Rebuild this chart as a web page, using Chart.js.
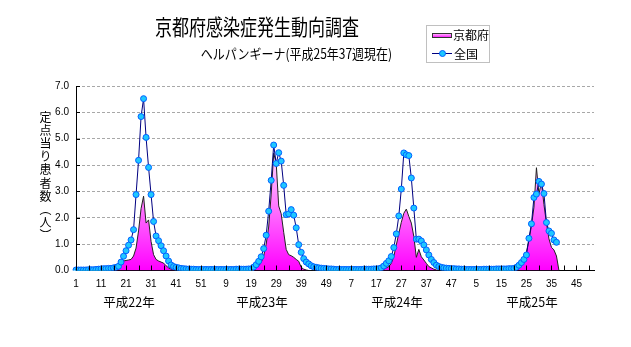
<!DOCTYPE html>
<html><head><meta charset="utf-8">
<script src="https://cdn.jsdelivr.net/npm/chart.js@4/dist/chart.umd.min.js"></script>
<style>
html,body{margin:0;padding:0;background:#fff;}
#wrap{position:relative;width:631px;height:347px;overflow:hidden;}
canvas{position:absolute;left:0;top:0;}
.t{position:absolute;white-space:nowrap;color:#000;font-family:"Noto Sans CJK JP","Noto Sans",sans-serif;line-height:1;}
#title{left:257px;top:26px;font-size:17px;transform:translate(-50%,-50%) scaleY(1.25);}
#sub{left:296.5px;top:53px;font-size:12px;transform:translate(-50%,-50%) scaleY(1.15);}
#ytitle{left:45px;top:111px;font-size:12px;writing-mode:vertical-rl;letter-spacing:1.2px;transform:translateX(-50%);}
.yr{top:302px;font-size:12.5px;transform:translate(-50%,-50%);}
#legend{position:absolute;left:426px;top:25px;width:62px;height:36px;border:1px solid #c0c0c0;background:#fff;}
#legend .sw1{position:absolute;left:5px;top:7px;width:18px;height:3px;border:1px solid #333;background:linear-gradient(#ffb0ff,#ff20ff);}
#legend .sw2{position:absolute;left:5px;top:27px;width:20px;height:1px;background:#000080;}
#legend .dot{position:absolute;left:12px;top:24px;width:5px;height:5px;border-radius:50%;background:#1ec8ff;border:1px solid #0060ff;}
#legend .l1{left:26px;top:9px;font-size:12px;transform:translateY(-50%);}
#legend .l2{left:27px;top:28px;font-size:12px;transform:translateY(-50%);}
</style></head>
<body>
<div id="wrap">
<canvas id="c" width="631" height="347"></canvas>
<div class="t" id="title">京都府感染症発生動向調査</div>
<div class="t" id="sub">ヘルパンギーナ(平成25年37週現在)</div>
<div class="t" id="ytitle">定点当り患者数（人）</div>
<div class="t yr" style="left:129px">平成22年</div>
<div class="t yr" style="left:262px">平成23年</div>
<div class="t yr" style="left:397px">平成24年</div>
<div class="t yr" style="left:532px">平成25年</div>
<div id="legend">
  <div class="sw1"></div><div class="t l1">京都府</div>
  <div class="sw2"></div><div class="dot"></div><div class="t l2">全国</div>
</div>
</div>
<script>
// ---- data ----
const years = ['平成22年','平成23年','平成24年','平成25年'];
const weeksPerYear = [52, 52, 52, 52];

const nationalH22 = [0.02,0.02,0.02,0.02,0.02,0.03,0.03,0.03,0.04,0.05,
  0.06,0.07,0.07,0.08,0.08,0.10,0.12,0.16,0.32,0.54,
  0.75,0.96,1.16,1.55,2.88,4.18,5.84,6.52,5.05,3.91,
  2.88,1.86,1.31,1.13,0.94,0.75,0.55,0.36,0.21,0.15,
  0.12,0.10,0.08,0.07,0.06,0.05,0.05,0.05,0.04,0.04,
  0.04,0.04];
const nationalH23 = [0.04,0.04,0.04,0.04,0.04,0.04,0.04,0.04,0.04,0.04,
  0.04,0.04,0.05,0.05,0.05,0.05,0.05,0.06,0.06,0.13,
  0.22,0.35,0.52,0.83,1.34,2.25,3.42,4.76,4.06,4.47,
  4.15,3.23,2.12,2.15,2.31,2.10,1.62,0.98,0.69,0.45,
  0.32,0.25,0.18,0.14,0.12,0.10,0.09,0.08,0.07,0.06,
  0.06,0.05];
const nationalH24 = [0.04,0.04,0.04,0.04,0.04,0.04,0.04,0.04,0.04,0.04,
  0.04,0.05,0.05,0.05,0.05,0.06,0.06,0.07,0.10,0.17,
  0.27,0.37,0.53,0.87,1.39,2.07,3.09,4.46,4.39,4.36,
  3.51,2.37,1.19,1.19,1.12,0.97,0.78,0.59,0.42,0.30,
  0.20,0.15,0.12,0.10,0.09,0.08,0.07,0.07,0.06,0.06,
  0.05,0.05];
const nationalH25 = [0.04,0.04,0.04,0.04,0.04,0.04,0.04,0.05,0.05,0.05,
  0.05,0.05,0.06,0.06,0.06,0.06,0.06,0.07,0.07,0.08,
  0.12,0.20,0.30,0.42,0.59,1.22,1.77,2.77,2.90,3.38,
  3.28,2.92,1.82,1.50,1.41,1.16,1.07];

const kyotoH22 = [0,0,0,0,0,0,0,0,0,0,
  0,0,0,0,0.02,0.05,0.08,0.15,0.28,0.36,
  0.38,0.40,0.42,0.55,0.85,1.50,2.35,2.82,1.80,1.92,
  1.10,0.60,0.42,0.36,0.32,0.28,0.18,0.10,0.05,0.02,
  0,0,0,0,0,0,0,0,0,0,
  0,0];
const kyotoH23 = [0,0,0,0,0,0,0,0,0,0,
  0,0,0,0,0,0,0,0.02,0.05,0.08,
  0.12,0.18,0.30,0.55,1.00,1.65,2.90,4.45,4.08,2.45,
  2.15,1.45,0.80,0.60,0.56,0.50,0.42,0.35,0.12,0.05,
  0.02,0,0,0,0,0,0,0,0,0,
  0,0];
const kyotoH24 = [0,0,0,0,0,0,0,0,0,0,
  0,0,0,0,0,0,0,0,0.02,0.05,
  0.10,0.15,0.27,0.53,0.97,1.41,1.83,2.17,2.33,2.05,
  1.80,1.29,0.50,0.80,0.52,0.40,0.27,0.15,0.10,0.05,
  0.02,0,0,0,0,0,0,0,0,0,
  0,0];
const kyotoH25 = [0,0,0,0,0,0,0,0,0,0,
  0,0,0,0,0,0,0,0,0,0.02,
  0.05,0.10,0.20,0.40,0.70,1.15,1.70,2.40,3.90,2.90,
  3.35,2.50,1.80,1.20,0.88,0.78,0.55,0];

const yTickLabels = ['0.0','1.0','2.0','3.0','4.0','5.0','6.0','7.0'];

// ---- build ----
const weekLabels = [];
weeksPerYear.forEach(n => { for (let w = 1; w <= n; w++) weekLabels.push(String(w)); });
const national = [].concat(nationalH22, nationalH23, nationalH24, nationalH25);
const kyoto = [].concat(kyotoH22, kyotoH23, kyotoH24, kyotoH25);

const innerTicks = {
  id: 'innerTicks',
  afterDraw(chart) {
    const {ctx, scales: {x, y}} = chart;
    ctx.save();
    ctx.strokeStyle = '#000';
    ctx.lineWidth = 1;
    ctx.beginPath();
    for (let i = 0; i < weekLabels.length; i += 5) {
      const px = Math.round(x.getPixelForValue(i)) + 0.5;
      ctx.moveTo(px, y.bottom);
      ctx.lineTo(px, y.bottom - 5);
    }
    for (let v = 1; v <= 7; v++) {
      const py = Math.round(y.getPixelForValue(v)) + 0.5;
      ctx.moveTo(x.left, py);
      ctx.lineTo(x.left + 4, py);
    }
    ctx.stroke();
    ctx.restore();
  }
};

const ctx = document.getElementById('c').getContext('2d');
new Chart(ctx, {
  type: 'line',
  data: {
    labels: weekLabels,
    datasets: [
      {
        label: '全国', data: national, order: 0,
        borderColor: '#000080', borderWidth: 1, tension: 0, fill: false,
        pointRadius: 3, pointBackgroundColor: '#1ec8ff', pointBorderColor: '#0060ff', pointBorderWidth: 1
      },
      {
        label: '京都府', data: kyoto, order: 1,
        borderColor: '#222', borderWidth: 1, tension: 0, pointRadius: 0, fill: 'origin',
        backgroundColor(context) {
          const chart = context.chart;
          if (!chart.chartArea) return '#ff40ff';
          const y = chart.scales.y;
          const g = chart.ctx.createLinearGradient(0, y.getPixelForValue(0), 0, y.getPixelForValue(4.6));
          g.addColorStop(0, '#ff00ff');
          g.addColorStop(1, '#ffe0ff');
          return g;
        }
      }
    ]
  },
  options: {
    responsive: false, animation: false, devicePixelRatio: 1,
    layout: { padding: { top: 86, right: 37, bottom: 0, left: 0 } },
    plugins: { legend: { display: false }, title: { display: false }, tooltip: { enabled: false } },
    scales: {
      x: {
        type: 'category', offset: false,
        grid: { display: false, drawTicks: false },
        border: { display: true, color: '#000', width: 1 },
        ticks: {
          autoSkip: false, maxRotation: 0, minRotation: 0, padding: 8, color: '#000',
          font: { family: '"Liberation Sans", Arial, sans-serif', size: 10 },
          callback: (v, i) => (i % 10 === 0 ? weekLabels[i] : '')
        },
        afterFit(s) { s.height = 76.5; }
      },
      y: {
        min: 0, max: 7,
        grid: { color: '#a8a8a8', lineWidth: 1, drawTicks: false },
        border: { display: true, color: '#000', width: 1, dash: [3, 2] },
        ticks: {
          stepSize: 1, padding: 7, color: '#000',
          font: { family: '"Liberation Sans", Arial, sans-serif', size: 10 },
          callback: (v) => yTickLabels[Math.round(v)]
        },
        afterFit(s) { s.width = 76; }
      }
    }
  },
  plugins: [innerTicks]
});
</script>
</body></html>
